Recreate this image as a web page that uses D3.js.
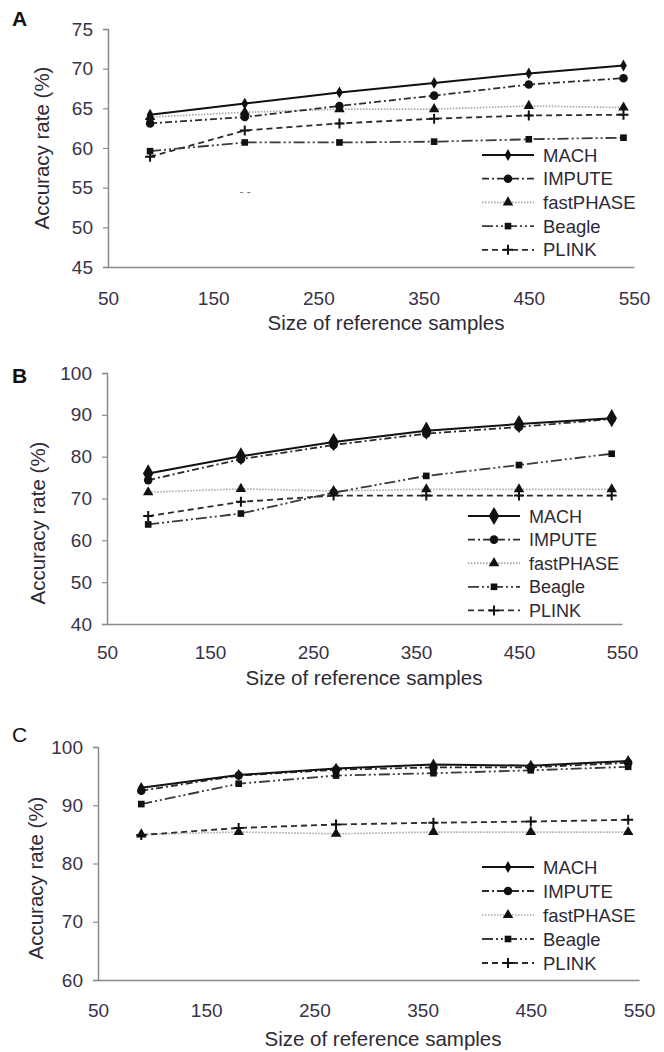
<!DOCTYPE html>
<html><head><meta charset="utf-8">
<script src="https://cdn.jsdelivr.net/npm/d3@7"></script>
<style>
html,body{margin:0;padding:0;background:#fff;}
svg{display:block;}
text{font-family:"Liberation Sans",Arial,sans-serif;}
</style></head>
<body>
<svg id="chart" width="664" height="1052"></svg>
<script>
// ---------- DATA ----------
const sampleSizes = [90, 180, 270, 360, 450, 540];
const seriesNames = ["MACH", "IMPUTE", "fastPHASE", "Beagle", "PLINK"];
const xTickValues = [50, 150, 250, 350, 450, 550];

// Panel A
const yTicksA = [45, 50, 55, 60, 65, 70, 75];
const machA      = [64.2, 65.6, 67.0, 68.2, 69.4, 70.4];
const imputeA    = [63.1, 63.9, 65.3, 66.6, 68.0, 68.8];
const fastphaseA = [63.9, 64.5, 64.9, 64.9, 65.3, 65.1];
const beagleA    = [59.6, 60.7, 60.7, 60.8, 61.1, 61.3];
const plinkA     = [58.9, 62.2, 63.1, 63.7, 64.1, 64.2];

// Panel B
const yTicksB = [40, 50, 60, 70, 80, 90, 100];
const machB      = [76.0, 80.1, 83.5, 86.2, 87.8, 89.2];
const imputeB    = [74.4, 79.4, 82.8, 85.5, 87.1, 89.0];
const fastphaseB = [71.5, 72.3, 71.8, 72.2, 72.2, 72.2];
const beagleB    = [63.8, 66.4, 71.4, 75.4, 78.0, 80.7];
const plinkB     = [65.8, 69.2, 70.7, 70.7, 70.7, 70.7];

// Panel C
const yTicksC = [60, 70, 80, 90, 100];
const machC      = [93.0, 95.2, 96.3, 97.0, 96.8, 97.6];
const imputeC    = [92.5, 95.1, 96.1, 96.5, 96.5, 97.3];
const fastphaseC = [85.0, 85.4, 85.1, 85.4, 85.4, 85.4];
const beagleC    = [90.2, 93.7, 95.1, 95.5, 96.0, 96.6];
const plinkC     = [84.9, 86.1, 86.7, 87.0, 87.2, 87.5];

const xTitleA = "Size of reference samples";
const xTitleB = "Size of reference  samples";
const xTitleC = "Size of reference samples";
const yTitle = "Accuracy rate (%)";

// ---------- STYLES ----------
const styles = {
  MACH:      {stroke:"#111", width:2.0, dash:null,            marker:"diamond"},
  IMPUTE:    {stroke:"#2a2a2a", width:1.8, dash:"7,3,2,3",   marker:"circle"},
  fastPHASE: {stroke:"#a8a8a8", width:1.7, dash:"1.5,1.5",   marker:"triangle"},
  Beagle:    {stroke:"#3a3a3a", width:1.8, dash:"11,3,2,3,2,3", marker:"square"},
  PLINK:     {stroke:"#2a2a2a", width:1.8, dash:"6,4",       marker:"plus"}
};
const tickColor = "#3a3248";
const textColor = "#2e2a36";
const axisColor = "#8a8a8a";
const font = "Liberation Sans, Arial, sans-serif";

const svg = d3.select("#chart");

function drawMarker(g, type, x, y, big) {
  const s = big ? 1.55 : 1;
  if (type === "plus") {
    const r = 5;
    g.append("path").attr("d", `M${x-r},${y}H${x+r}M${x},${y-r}V${y+r}`)
      .attr("stroke", "#111").attr("stroke-width", 2).attr("fill", "none");
    return;
  }
  const map = {diamond:[d3.symbolDiamond, 40], circle:[d3.symbolCircle, 58],
               triangle:[d3.symbolTriangle, 48], square:[d3.symbolSquare, 44]};
  const [sym, size] = map[type];
  g.append("path").attr("d", d3.symbol(sym, size * s * s)())
    .attr("transform", `translate(${x},${y})`).attr("fill", "#111");
}

function panel(cfg) {
  const g = svg.append("g");
  const x = d3.scaleLinear().domain([50, 550]).range([cfg.x0, cfg.x1]);
  const y = d3.scaleLinear().domain(cfg.yDomain).range([cfg.y1, cfg.y0]);

  // y axis
  const yAxis = d3.axisLeft(y).tickValues(cfg.yTicks).tickSize(5).tickPadding(10);
  const ya = g.append("g").attr("transform", `translate(${cfg.x0},0)`).call(yAxis);
  ya.select(".domain").attr("stroke", axisColor).attr("stroke-width", 1.5);
  ya.selectAll(".tick line").attr("stroke", axisColor).attr("stroke-width", 1.2);
  ya.selectAll(".tick text").attr("fill", tickColor).attr("font-size", 19).attr("font-family", font);

  // x axis
  const xAxis = d3.axisBottom(x).tickValues(xTickValues).tickSize(0).tickPadding(cfg.xPad);
  const xa = g.append("g").attr("transform", `translate(0,${cfg.y1})`).call(xAxis);
  xa.select(".domain").attr("stroke", axisColor).attr("stroke-width", 1.5);
  xa.selectAll(".tick text").attr("fill", tickColor).attr("font-size", 19).attr("font-family", font);

  // panel letter
  g.append("text").attr("x", cfg.letterX).attr("y", cfg.letterY).text(cfg.letter)
    .attr("font-size", 21).attr("font-weight", cfg.letterBold ? "bold" : "normal").attr("fill", "#111");

  // titles
  g.append("text").attr("x", cfg.xTitleX).attr("y", cfg.xTitleY).attr("text-anchor", "middle")
    .attr("font-size", 20.5).attr("fill", textColor).text(cfg.xTitle);
  g.append("text").attr("transform", `translate(${cfg.yTitleX},${cfg.yTitleY}) rotate(-90)`)
    .attr("text-anchor", "middle").attr("font-size", 20.5).attr("fill", textColor).text(yTitle);

  // series lines
  const line = d3.line().x((d, i) => x(sampleSizes[i])).y(d => y(d));
  const order = ["fastPHASE", "PLINK", "Beagle", "IMPUTE", "MACH"];
  order.forEach(name => {
    const st = styles[name];
    g.append("path").datum(cfg.series[name]).attr("d", line)
      .attr("fill", "none").attr("stroke", st.stroke).attr("stroke-width", st.width)
      .attr("stroke-dasharray", st.dash);
  });
  order.forEach(name => {
    const st = styles[name];
    cfg.series[name].forEach((v, i) => drawMarker(g, st.marker, x(sampleSizes[i]), y(v), cfg.bigMach && (name === "MACH")));
  });

  // legend
  seriesNames.forEach((name, i) => {
    const st = styles[name];
    const ly = cfg.legY + i * cfg.legStep;
    g.append("line").attr("x1", cfg.legX).attr("x2", cfg.legX + 52).attr("y1", ly).attr("y2", ly)
      .attr("stroke", st.stroke).attr("stroke-width", st.width).attr("stroke-dasharray", st.dash);
    drawMarker(g, st.marker, cfg.legX + 26, ly, cfg.bigMach && name === "MACH");
    g.append("text").attr("x", cfg.legX + 61).attr("y", ly + 6.5).attr("font-size", cfg.legFont)
      .attr("fill", textColor).text(name);
  });
  return {g, x, y};
}

const pA = panel({
  letter:"A", letterX:12, letterY:26, letterBold:true,
  x0:108, x1:634, y0:29, y1:267, yDomain:[45,75], yTicks:yTicksA, xPad:25,
  xTitle:xTitleA, xTitleX:386, xTitleY:330, yTitleX:49, yTitleY:148,
  legX:482, legY:155, legStep:23.7, legFont:18.5,
  series:{MACH:machA, IMPUTE:imputeA, fastPHASE:fastphaseA, Beagle:beagleA, PLINK:plinkA}
});
// stray dots present in the original figure
pA.g.append("text").attr("x", pA.x(175)).attr("y", pA.y(54)).attr("font-size", 12)
  .attr("fill", "#777").text("- -");

panel({
  letter:"B", letterX:12, letterY:383, letterBold:true,
  x0:107, x1:622, y0:373, y1:624, yDomain:[40,100], yTicks:yTicksB, xPad:22,
  xTitle:xTitleB, xTitleX:364, xTitleY:685, yTitleX:45, yTitleY:523,
  legX:468, legY:516, legStep:23.6, legFont:18, bigMach:true,
  series:{MACH:machB, IMPUTE:imputeB, fastPHASE:fastphaseB, Beagle:beagleB, PLINK:plinkB}
});

panel({
  letter:"C", letterX:12, letterY:742, letterBold:false,
  x0:98, x1:639, y0:747, y1:980, yDomain:[60,100], yTicks:yTicksC, xPad:24,
  xTitle:xTitleC, xTitleX:383, xTitleY:1046, yTitleX:43, yTitleY:878,
  legX:482, legY:867, legStep:24, legFont:18.5,
  series:{MACH:machC, IMPUTE:imputeC, fastPHASE:fastphaseC, Beagle:beagleC, PLINK:plinkC}
});
</script>
</body></html>
